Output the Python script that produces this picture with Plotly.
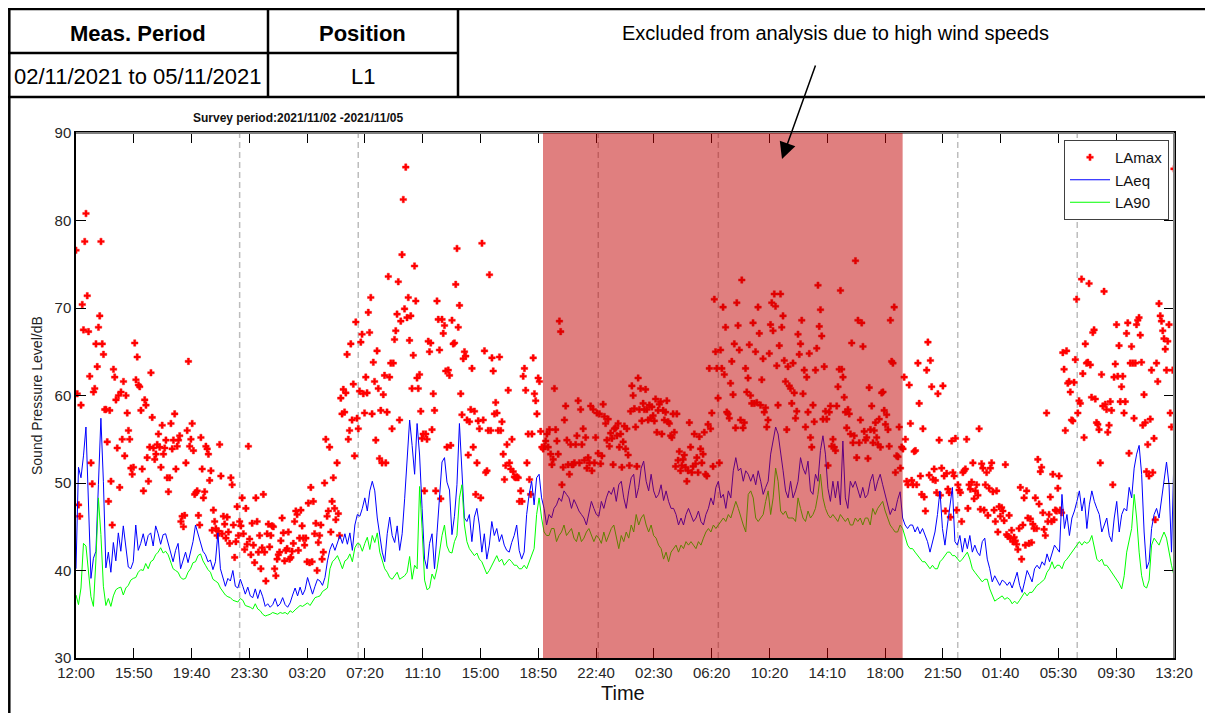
import numpy as np
import plotly.graph_objects as go

# ---------------- data ----------------
T_END = 73 + 20 / 60  # hours from 12:00 on 02/11/2021 to 13:20 on 05/11/2021

tick_labels = ["12:00", "15:50", "19:40", "23:30", "03:20", "07:20", "11:10", "15:00",
               "18:50", "22:40", "02:30", "06:20", "10:20", "14:10", "18:00", "21:50",
               "01:40", "05:30", "09:30", "13:20"]

y_ticks = [30, 40, 50, 60, 70, 80, 90]

# night-time boundaries (hours from start) and excluded period (hours from start)
night_lines = [10.93, 18.85, 34.88, 42.90, 58.89, 66.87]
excluded = [31.19, 55.21]

# LAmax, 5-minute values
lamax = [
    76.6, 60.2, 47.5, 46.2, 58.9, 70.4, 67.5, 77.6, 80.8, 71.4, 67.3, 62.2,
    52.3, 49.9, 60.4, 60.8, 65.9, 63.3, 67.8, 69.1, 77.6, 65.9, 64.7, 58.4,
    58.4, 54.7, 47.9, 58.3, 50.2, 45.2, 63.0, 62.1, 59.5, 54.0, 60.0, 49.5,
    60.4, 55.0, 61.6, 53.1, 60.0, 58.0, 56.0, 55.0, 51.7, 51.0, 51.8, 66.0,
    61.8, 64.4, 61.2, 61.0, 58.3, 51.6, 49.1, 59.5, 58.9, 52.9, 50.2, 54.1,
    62.6, 57.5, 54.0, 52.7, 53.3, 54.4, 55.6, 54.1, 51.8, 56.6, 53.3, 54.0,
    54.9, 50.6, 49.0, 50.6, 56.8, 53.9, 54.9, 57.9, 51.6, 54.2, 54.9, 55.4,
    45.6, 46.2, 45.0, 46.3, 52.3, 56.0, 63.9, 54.2, 55.0, 56.8, 53.7, 48.7,
    48.9, 49.1, 46.3, 45.2, 55.2, 51.6, 48.3, 49.0, 54.2, 53.9, 53.3, 50.3,
    51.4, 44.6, 46.9, 45.6, 44.8, 44.0, 44.5, 54.4, 50.8, 44.2, 46.2, 45.3,
    43.7, 46.1, 44.4, 43.1, 50.6, 49.8, 45.2, 41.5, 43.3, 47.3, 44.0, 45.6,
    45.1, 48.3, 44.2, 42.4, 47.1, 43.0, 54.2, 43.6, 41.8, 45.4, 42.9, 40.9,
    48.3, 45.6, 42.1, 44.0, 40.2, 42.6, 48.7, 42.1, 38.8, 44.2, 45.3, 42.7,
    44.0, 45.1, 45.0, 40.2, 39.4, 41.3, 41.8, 42.1, 43.4, 46.0, 44.3, 41.1,
    42.3, 42.5, 44.4, 41.3, 41.5, 42.2, 43.1, 45.6, 46.8, 46.4, 42.3, 43.7,
    46.9, 45.1, 43.7, 42.9, 43.7, 41.0, 47.7, 40.9, 49.5, 41.0, 47.9, 44.2,
    45.4, 40.0, 43.2, 44.0, 45.2, 41.3, 42.1, 50.0, 55.0, 46.2, 46.8, 54.1,
    44.4, 47.9, 50.6, 47.1, 45.8, 52.3, 46.5, 44.0, 59.7, 57.9, 60.7, 58.1,
    60.3, 64.7, 55.0, 56.0, 65.9, 57.2, 61.3, 53.1, 68.4, 57.4, 56.2, 60.5,
    66.1, 67.0, 60.2, 58.0, 62.1, 60.3, 69.5, 67.2, 71.2, 57.9, 63.8, 61.6,
    54.9, 65.1, 60.8, 52.8, 58.3, 52.3, 60.1, 62.3, 52.3, 58.1, 73.6, 62.1,
    63.7, 56.2, 63.7, 66.4, 67.4, 69.3, 73.0, 57.2, 68.5, 76.1, 82.4, 69.9,
    86.1, 68.9, 71.2, 66.3, 69.1, 60.8, 64.6, 74.8, 70.8, 62.0, 60.8, 62.4,
    58.2, 55.1, 55.6, 49.1, 55.6, 55.0, 66.2, 65.0, 66.0, 56.1, 60.2, 58.3,
    49.1, 70.8, 68.7, 65.2, 48.2, 68.7, 67.1, 68.0, 62.8, 54.1, 62.9, 62.3,
    54.3, 68.6, 65.9, 66.0, 72.7, 76.8, 67.8, 70.3, 60.2, 57.8, 64.2, 65.0,
    64.5, 57.2, 53.2, 57.0, 58.4, 63.1, 54.1, 58.2, 48.7, 52.3, 57.1, 56.2,
    48.3, 77.4, 57.2, 65.1, 51.2, 51.4, 56.0, 73.8, 56.0, 64.3, 62.8, 57.9,
    59.2, 58.0, 56.0, 64.4, 56.0, 57.0, 53.3, 50.4, 52.0, 54.4, 60.6, 52.3,
    51.6, 55.0, 51.3, 50.7, 50.6, 50.7, 50.6, 47.9, 49.1, 47.9, 62.2, 63.1,
    60.6, 52.3, 55.6, 50.4, 48.7, 55.6, 64.3, 60.2, 59.4, 57.9, 62.0, 61.6,
    55.9, 54.1, 53.9, 54.2, 54.8, 55.6, 54.1, 56.1, 53.3, 52.1, 52.7, 60.8,
    56.1, 54.8, 53.3, 68.5, 67.3, 49.8, 51.8, 57.2, 58.8, 54.9, 52.1, 51.0,
    54.4, 52.1, 52.1, 52.3, 54.4, 55.4, 59.4, 52.3, 58.4, 54.4, 56.2, 52.6,
    55.2, 51.7, 52.9, 52.3, 58.8, 51.4, 58.4, 52.3, 55.2, 58.0, 53.4, 57.9,
    52.2, 53.1, 59.0, 57.6, 56.8, 54.9, 57.3, 54.2, 55.7, 55.1, 52.1, 56.2,
    56.3, 55.4, 56.8, 54.1, 55.6, 51.8, 54.7, 56.5, 53.9, 56.2, 53.2, 52.0,
    58.2, 61.1, 60.0, 58.5, 56.4, 51.9, 62.0, 58.4, 60.8, 57.1, 59.1, 58.4,
    60.7, 58.4, 57.2, 58.9, 57.4, 58.7, 57.7, 57.1, 59.6, 55.8, 58.3, 59.0,
    59.3, 55.6, 58.3, 57.2, 58.1, 59.4, 57.0, 56.8, 55.4, 55.2, 57.9, 55.8,
    51.9, 57.9, 52.6, 53.6, 51.4, 52.0, 52.7, 53.2, 51.8, 50.2, 51.4, 56.9,
    54.1, 51.2, 51.9, 55.6, 52.2, 52.9, 51.2, 55.3, 53.9, 52.3, 53.3, 55.8,
    51.0, 50.8, 56.7, 63.1, 56.2, 58.0, 51.9, 71.0, 65.0, 63.1, 59.7, 52.3,
    65.2, 63.1, 70.1, 62.4, 67.8, 58.1, 57.9, 57.4, 61.4, 63.9, 60.1, 65.9,
    56.3, 70.6, 68.0, 65.2, 57.2, 73.2, 56.3, 56.9, 63.1, 60.4, 62.0, 65.8,
    60.0, 59.1, 68.3, 59.1, 65.0, 59.2, 70.1, 67.1, 58.9, 61.8, 64.2, 58.1,
    58.6, 56.4, 57.2, 64.8, 68.1, 70.6, 67.4, 71.6, 70.2, 63.4, 58.9, 65.7,
    71.6, 67.8, 69.1, 64.0, 61.6, 56.1, 63.3, 61.1, 60.8, 59.1, 63.7, 60.3,
    57.4, 58.2, 67.0, 64.7, 65.9, 68.6, 60.2, 62.9, 56.4, 62.1, 58.1, 64.8,
    55.2, 54.1, 58.9, 57.0, 62.9, 65.4, 72.6, 67.9, 69.8, 66.8, 57.3, 63.3,
    58.2, 57.3, 52.0, 58.1, 58.8, 54.2, 55.0, 54.1, 53.7, 58.8, 61.0, 63.0,
    72.0, 63.0, 62.1, 59.8, 58.1, 56.3, 58.4, 57.9, 55.6, 66.0, 54.6, 55.4,
    75.4, 52.9, 68.6, 54.6, 57.2, 68.3, 65.6, 55.9, 54.9, 55.2, 52.8, 60.9,
    56.1, 58.8, 54.6, 56.0, 56.9, 55.2, 54.4, 57.3, 54.1, 60.3, 60.4, 58.3,
    56.7, 57.8, 56.1, 54.2, 68.6, 63.9, 63.7, 70.1, 51.2, 53.1, 53.0, 56.4,
    51.7, 54.1, 53.9, 62.1, 55.0, 50.2, 49.8, 61.2, 56.8, 50.3, 49.8, 53.6,
    53.7, 49.8, 63.7, 59.1, 50.8, 48.7, 56.2, 48.4, 46.8, 62.9, 66.1, 50.9,
    64.0, 61.0, 50.4, 51.6, 50.3, 48.9, 60.2, 54.9, 48.6, 51.7, 61.1, 50.8,
    46.8, 51.1, 49.3, 48.9, 46.1, 54.8, 51.2, 50.8, 55.1, 46.9, 49.8, 49.2,
    48.9, 45.6, 51.2, 51.4, 51.6, 55.0, 47.1, 49.8, 49.3, 50.1, 52.3, 48.2,
    49.1, 49.8, 48.6, 56.2, 47.0, 52.2, 51.7, 46.9, 49.8, 51.2, 46.3, 49.4,
    51.7, 52.3, 49.0, 46.9, 45.6, 49.1, 44.4, 47.3, 46.2, 47.2, 46.8, 45.7,
    52.1, 44.1, 43.9, 46.3, 43.7, 44.6, 43.3, 43.8, 43.4, 43.0, 42.4, 44.8,
    49.5, 41.3, 45.2, 48.3, 42.9, 49.1, 46.0, 43.1, 45.9, 43.2, 45.3, 44.8,
    48.3, 44.8, 52.7, 47.6, 51.3, 51.8, 46.6, 44.7, 44.0, 58.0, 45.6, 46.4,
    48.4, 45.6, 51.0, 45.8, 46.9, 46.8, 49.4, 50.8, 46.9, 46.6, 64.9, 63.0,
    56.0, 65.1, 61.4, 61.6, 60.4, 57.2, 57.1, 61.5, 64.1, 71.0, 58.0, 59.4,
    59.1, 73.3, 62.5, 55.2, 65.9, 63.7, 63.8, 72.8, 63.5, 59.8, 67.2, 67.5,
    59.6, 56.9, 56.7, 56.1, 52.3, 62.4, 58.8, 71.9, 59.0, 58.4, 55.8, 56.6,
    59.3, 58.3, 49.8, 62.1, 63.6, 68.1, 62.2, 65.7, 59.3, 61.0, 62.2, 58.0,
    59.3, 67.1, 68.3, 53.4, 63.7, 65.6, 63.7, 57.4, 63.7, 68.1, 68.6, 68.9,
    66.9, 63.8, 56.6, 60.1, 56.9, 51.3, 54.4, 50.8, 57.3, 62.9, 51.2, 55.1,
    45.8, 63.7, 61.6, 70.5, 69.1, 68.5, 67.4, 66.5, 65.3, 62.9, 66.2, 68.1,
    58.0, 56.4, 62.9, 85.9,
]

# LAeq, 10-minute values
laeq = [
    40.2, 51.8, 50.6, 53.1, 56.4, 46.3,
    39.1, 41.4, 42.2, 49.8, 57.4, 50.2,
    40.3, 42.1, 39.8, 43.2, 41.1, 44.3,
    42.2, 45.1, 43.0, 40.4, 40.2, 41.0,
    45.2, 42.3, 43.1, 44.2, 42.8, 44.0,
    44.3, 42.8, 45.1, 44.2, 43.0, 44.1,
    44.2, 43.1, 42.2, 41.0, 42.3, 43.1,
    40.2, 41.3, 42.1, 40.9, 42.2, 43.3,
    45.2, 44.1, 43.0, 42.2, 41.8, 41.0,
    41.2, 40.1, 41.0, 44.3, 40.2, 39.1,
    38.2, 39.1, 38.8, 40.0, 38.2, 38.0,
    39.0, 38.2, 37.3, 38.1, 37.1, 36.9,
    37.9, 36.8, 37.8, 37.0, 35.9, 36.2,
    35.8, 36.1, 36.8, 35.9, 36.2, 36.9,
    36.1, 35.8, 36.3, 37.2, 38.0, 37.1,
    38.1, 37.2, 37.8, 39.2, 38.1, 37.3,
    38.2, 39.0, 38.8, 38.3, 39.2, 41.1,
    42.4, 43.1, 42.3, 43.2, 44.0, 43.1,
    44.2, 43.0, 44.3, 42.3, 45.2, 46.4,
    46.2, 47.1, 48.3, 46.8, 49.1, 50.2,
    49.1, 46.0, 44.2, 42.1, 41.0, 44.2,
    46.1, 44.0, 43.2, 45.1, 42.3, 44.2,
    48.2, 53.1, 57.2, 54.3, 51.0, 56.8,
    53.2, 47.1, 41.3, 40.2, 43.1, 44.2,
    40.2, 44.3, 48.1, 52.4, 52.9, 50.1,
    49.2, 44.1, 46.2, 49.8, 56.8, 52.1,
    46.0, 45.6, 46.4, 43.3, 46.1, 47.1,
    45.2, 42.1, 44.2, 41.3, 42.9, 45.6,
    44.0, 44.8, 43.3, 44.1, 42.9, 42.3,
    42.1, 43.2, 44.0, 45.2, 42.3, 41.3,
    42.1, 46.4, 48.7, 50.2, 47.5, 50.6,
    51.0, 48.3, 47.1, 45.2, 46.4, 46.0,
    47.1, 47.5, 48.3, 47.9, 49.1, 48.7,
    48.3, 47.1, 48.1, 47.5, 46.8, 46.4,
    46.0, 45.2, 46.4, 47.9, 47.1, 46.4,
    46.2, 47.9, 47.1, 48.3, 49.1, 48.7,
    49.5, 47.9, 49.8, 50.2, 48.3, 47.1,
    49.1, 50.6, 51.0, 48.3, 49.5, 51.7,
    52.5, 50.2, 49.1, 51.0, 49.1, 48.3,
    48.7, 49.8, 48.0, 49.1, 47.9, 47.1,
    47.1, 46.4, 45.2, 46.0, 45.2, 46.4,
    47.1, 46.4, 45.6, 46.0, 46.8, 45.6,
    45.2, 46.4, 47.1, 48.3, 47.5, 49.5,
    50.2, 48.3, 48.7, 47.1, 49.1, 48.3,
    51.4, 52.9, 51.4, 51.7, 50.2, 51.4,
    51.0, 50.2, 51.0, 49.8, 51.4, 50.2,
    48.7, 49.5, 50.2, 53.3, 54.8, 56.4,
    55.6, 53.7, 51.4, 49.1, 48.3, 50.2,
    48.3, 49.1, 50.2, 52.9, 51.7, 51.0,
    52.5, 49.1, 48.7, 51.0, 50.2, 53.7,
    55.4, 53.3, 49.4, 47.9, 50.2, 48.3,
    50.2, 47.5, 54.8, 48.3, 47.1, 50.2,
    49.5, 50.2, 49.1, 48.3, 49.5, 48.3,
    48.7, 50.2, 51.0, 49.1, 50.2, 51.0,
    49.8, 48.7, 47.5, 46.4, 47.1, 46.8,
    48.1, 49.0, 46.0, 45.2, 44.8, 45.2,
    45.2, 44.4, 45.0, 44.2, 44.8, 44.0,
    43.3, 42.1, 43.3, 44.4, 46.4, 49.1,
    44.8, 42.9, 45.2, 47.1, 49.5, 43.3,
    42.9, 44.0, 42.1, 43.7, 42.5, 44.0,
    42.1, 42.9, 42.1, 41.7, 43.3, 43.7,
    41.3, 40.2, 38.7, 39.4, 38.8, 38.3,
    38.9, 38.7, 38.3, 38.7, 38.0, 39.0,
    39.8, 38.3, 37.5, 38.7, 40.0, 39.4,
    38.7, 40.2, 40.6, 40.2, 41.0, 40.6,
    41.9, 41.0, 42.1, 42.9, 42.5, 42.1,
    48.7, 44.8, 46.4, 44.0, 46.0, 46.8,
    47.9, 49.1, 46.8, 48.3, 44.8, 47.5,
    49.1, 47.9, 47.1, 46.4, 44.4, 45.2,
    46.0, 44.0, 43.3, 46.0, 47.9, 44.4,
    46.4, 47.1, 46.8, 49.5, 48.3, 51.7,
    53.3, 54.3, 51.0, 44.4, 40.2, 41.0,
    44.8, 46.4, 47.1, 46.0, 48.3, 50.6,
    52.4, 49.8, 42.1, 53.3,
]

# LA90, 10-minute values
la90 = [
    37.2, 36.1, 38.0, 43.1, 42.8, 40.0,
    37.0, 35.9, 41.2, 48.3, 44.1, 38.2,
    36.0, 36.8, 35.9, 37.1, 37.8, 38.0,
    38.1, 37.2, 38.0, 38.3, 38.9, 39.1,
    39.2, 39.8, 40.1, 40.0, 40.8, 40.2,
    41.0, 41.2, 41.8, 42.1, 42.6, 42.0,
    42.2, 41.8, 41.0, 40.2, 40.0, 39.8,
    39.2, 39.0, 39.1, 39.8, 40.2, 40.9,
    41.0, 41.7, 41.9, 41.1, 40.6, 40.1,
    39.8, 39.0, 38.8, 38.6, 38.0, 37.6,
    37.2, 37.0, 36.9, 36.6, 36.5, 36.4,
    36.8, 36.6, 36.0, 35.9, 35.8, 35.6,
    36.2, 35.6, 35.4, 35.0, 34.8, 34.9,
    35.0, 35.2, 35.1, 35.0, 35.2, 35.1,
    35.2, 35.0, 35.4, 35.2, 35.5, 35.8,
    36.0, 35.9, 36.1, 36.3, 36.0, 36.5,
    36.9, 37.0, 37.1, 37.6, 37.8, 38.0,
    40.2, 41.0, 41.3, 41.7, 41.0, 40.2,
    41.1, 41.3, 41.9, 41.0, 42.6, 43.1,
    43.0, 42.2, 43.1, 43.8, 42.4, 44.0,
    43.2, 44.3, 42.1, 41.0, 40.2, 39.8,
    39.2, 39.0, 39.4, 39.8, 39.0, 39.2,
    39.4, 39.8, 41.6, 39.0, 40.6, 40.2,
    49.6, 44.8, 38.9, 37.8, 38.0, 39.6,
    39.0, 40.2, 42.1, 44.0, 45.2, 42.8,
    42.1, 42.0, 43.3, 44.0, 48.3, 49.8,
    45.2, 43.3, 42.5, 42.1, 41.7, 42.0,
    41.3, 41.0, 40.2, 39.6, 40.0, 40.6,
    41.0, 41.7, 41.0, 41.3, 40.6, 41.0,
    41.3, 41.0, 40.6, 40.6, 40.2, 40.2,
    40.6, 40.2, 41.0, 41.7, 42.5, 46.4,
    48.3, 46.0, 44.4, 44.0, 44.0, 44.8,
    44.8, 43.3, 44.0, 44.4, 45.2, 44.0,
    44.4, 44.8, 43.7, 43.3, 44.4, 43.3,
    43.7, 44.4, 44.8, 44.0, 43.3, 44.0,
    43.7, 43.1, 44.4, 43.3, 44.0, 44.8,
    45.2, 44.0, 42.5, 44.0, 43.3, 44.4,
    43.7, 45.2, 44.4, 46.4, 45.2, 46.0,
    46.4, 45.2, 44.4, 45.2, 44.0, 43.7,
    42.9, 42.5, 41.3, 42.1, 41.0, 42.1,
    42.5, 42.9, 42.1, 42.9, 42.5, 43.3,
    42.9, 43.3, 42.9, 42.5, 43.3, 42.9,
    43.7, 44.4, 44.8, 44.4, 45.2, 44.8,
    45.2, 45.6, 46.0, 45.6, 46.4, 46.0,
    47.1, 47.9, 47.1, 46.0, 45.2, 44.4,
    48.7, 49.1, 48.3, 46.0, 45.6, 46.0,
    46.4, 47.9, 49.1, 46.4, 48.3, 51.7,
    50.2, 46.8, 46.4, 46.8, 46.0, 46.0,
    46.0, 45.6, 48.3, 47.1, 46.0, 45.6,
    46.8, 46.0, 46.4, 47.1, 48.7, 51.0,
    48.3, 47.1, 46.4, 46.0, 46.4, 46.0,
    45.6, 46.4, 46.0, 45.6, 46.0, 45.2,
    45.2, 46.0, 45.6, 46.0, 45.2, 46.0,
    46.0, 45.2, 47.1, 46.4, 47.1, 47.5,
    47.9, 46.8, 46.0, 45.2, 44.8, 44.4,
    44.4, 45.2, 44.8, 43.7, 42.9, 42.5,
    42.5, 42.1, 41.7, 41.3, 41.0, 41.0,
    40.6, 40.2, 40.6, 40.2, 40.2, 41.0,
    41.3, 41.7, 42.1, 42.1, 41.7, 41.7,
    41.3, 41.0, 41.3, 41.7, 42.1, 41.3,
    40.2, 39.8, 39.4, 39.0, 38.7, 39.0,
    39.0, 37.9, 37.1, 36.5, 36.7, 36.9,
    37.1, 36.7, 36.9, 36.7, 36.2, 36.5,
    36.2, 36.6, 37.1, 37.5, 37.1, 37.5,
    37.5, 37.9, 38.3, 38.5, 38.7, 39.0,
    39.8, 40.2, 41.0, 40.2, 40.6, 40.6,
    40.2, 41.0, 41.3, 41.7, 42.1, 42.5,
    42.9, 43.3, 42.9, 43.3, 43.1, 43.3,
    44.0, 42.5, 41.3, 41.0, 41.3, 40.6,
    40.6, 40.2, 39.8, 39.4, 39.0, 38.5,
    37.9, 39.4, 42.1, 43.3, 44.8, 48.7,
    46.0, 42.1, 39.4, 38.2, 38.0, 38.9,
    42.9, 43.7, 43.3, 42.9, 43.7, 44.4,
    43.7, 42.1, 40.6, 39.4,
]

# ---------------- figure ----------------
W, H = 1213, 713
OFF = 8  # the page body adds an 8 px margin; compensate so the picture lines up
FONT = "Liberation Sans, Arial, sans-serif"
NARROW = "Liberation Sans Narrow, Arial Narrow, Liberation Sans, Arial, sans-serif"


def fx(px):
    return (px - OFF) / W


def fy(py):
    return 1 - (py - OFF) / H


x_max = np.linspace(0, T_END, len(lamax))
x_line = np.linspace(0, T_END, len(laeq))
x_l90 = np.linspace(0, T_END, len(la90))
tick_vals = np.linspace(0, T_END, len(tick_labels))

fig = go.Figure()
fig.add_trace(go.Scatter(x=x_max, y=lamax, mode="markers", name="LAmax",
                         marker=dict(symbol="cross", size=5.5, color="#FF0000",
                                     line=dict(width=0.4, color="#FF0000"))))
fig.add_trace(go.Scatter(x=x_line, y=laeq, mode="lines", name="LAeq",
                         line=dict(color="#0000FF", width=1)))
fig.add_trace(go.Scatter(x=x_l90, y=la90, mode="lines", name="LA90",
                         line=dict(color="#00FF00", width=1)))

shapes = []
# night-time dashed lines
for h in night_lines:
    shapes.append(dict(type="line", xref="x", yref="y domain", x0=h, x1=h, y0=0, y1=1,
                       line=dict(color="#BDBDBD", width=1.5, dash="6px,4px"), layer="below"))
# grey top / right frame lines (MATLAB style box)
shapes.append(dict(type="line", xref="x domain", yref="y domain", x0=0, x1=1, y0=1, y1=1,
                   line=dict(color="#7F7F7F", width=2), layer="above"))
shapes.append(dict(type="line", xref="x domain", yref="y domain", x0=1, x1=1, y0=0, y1=1,
                   line=dict(color="#7F7F7F", width=2), layer="above"))
# excluded period (translucent overlay)
shapes.append(dict(type="rect", xref="x", yref="y domain", x0=excluded[0], x1=excluded[1],
                   y0=0, y1=1, fillcolor="rgba(193,0,0,0.5)", line=dict(width=0),
                   layer="above"))

# header table
TL = dict(color="#000000", width=2.5)
table_lines = [
    (8, 9, W + OFF, 9),
    (9.3, 9, 9.3, H + OFF),
    (8, 53, 458, 53),
    (8, 97, W + OFF, 97),
    (268, 9, 268, 97),
    (458, 9, 458, 97),
]
for x0, y0, x1, y1 in table_lines:
    shapes.append(dict(type="line", xref="paper", yref="paper",
                       x0=fx(x0), y0=fy(y0), x1=fx(x1), y1=fy(y1), line=TL, layer="above"))

annotations = [
    dict(text="<b>Meas. Period</b>", x=fx(138), y=fy(33), font=dict(family=NARROW, size=22, color="#000")),
    dict(text="<b>Position</b>", x=fx(363), y=fy(33), font=dict(family=NARROW, size=22, color="#000")),
    dict(text="02/11/2021 to 05/11/2021", x=fx(138), y=fy(76), font=dict(family=NARROW, size=22, color="#000")),
    dict(text="L1", x=fx(363), y=fy(76), font=dict(family=NARROW, size=22, color="#000")),
    dict(text="Excluded from analysis due to high wind speeds", x=fx(835), y=fy(33),
         font=dict(family=NARROW, size=20, color="#000")),
    dict(text="<b>Survey period:2021/11/02 -2021/11/05</b>", x=fx(298), y=fy(118),
         font=dict(family=FONT, size=12, color="#111")),
    dict(text="Sound Pressure Level/dB", x=fx(37), y=fy(396), textangle=-90,
         font=dict(family=FONT, size=14, color="#222")),
    dict(text="Time", x=fx(623), y=fy(693), font=dict(family=FONT, size=20, color="#111")),
]
for a in annotations:
    a.update(xref="paper", yref="paper", showarrow=False, xanchor="center", yanchor="middle")

annotations.append(dict(xref="paper", yref="paper", x=fx(782), y=fy(159), ax=34, ay=-95,
                        text="", showarrow=True, arrowhead=2, arrowsize=2.2, arrowwidth=1.5,
                        arrowcolor="#000000"))

axis_common = dict(showline=True, linecolor="#000000", linewidth=1.5, mirror="ticks",
                   ticks="inside", ticklen=10, tickcolor="#000000", tickwidth=1,
                   showgrid=False, zeroline=False, automargin=False,
                   tickfont=dict(family=FONT, size=15, color="#262626"))

fig.update_layout(
    width=W, height=H,
    margin=dict(l=0, r=0, t=0, b=0, pad=0, autoexpand=False),
    paper_bgcolor="white", plot_bgcolor="white",
    xaxis=dict(domain=[fx(76), fx(1174)], range=[0, T_END], tickmode="array",
               tickvals=tick_vals, ticktext=tick_labels, **axis_common),
    yaxis=dict(domain=[fy(658), fy(133)], range=[30, 90], tickmode="array",
               tickvals=y_ticks, ticktext=[str(v) for v in y_ticks], **axis_common),
    showlegend=True,
    legend=dict(x=fx(1169), y=fy(140), xanchor="right", yanchor="top",
                bgcolor="white", bordercolor="#404040", borderwidth=1,
                font=dict(family=FONT, size=15, color="#111"),
                itemwidth=40, tracegroupgap=0),
    shapes=shapes,
    annotations=annotations,
)

fig.write_html("out.html")
